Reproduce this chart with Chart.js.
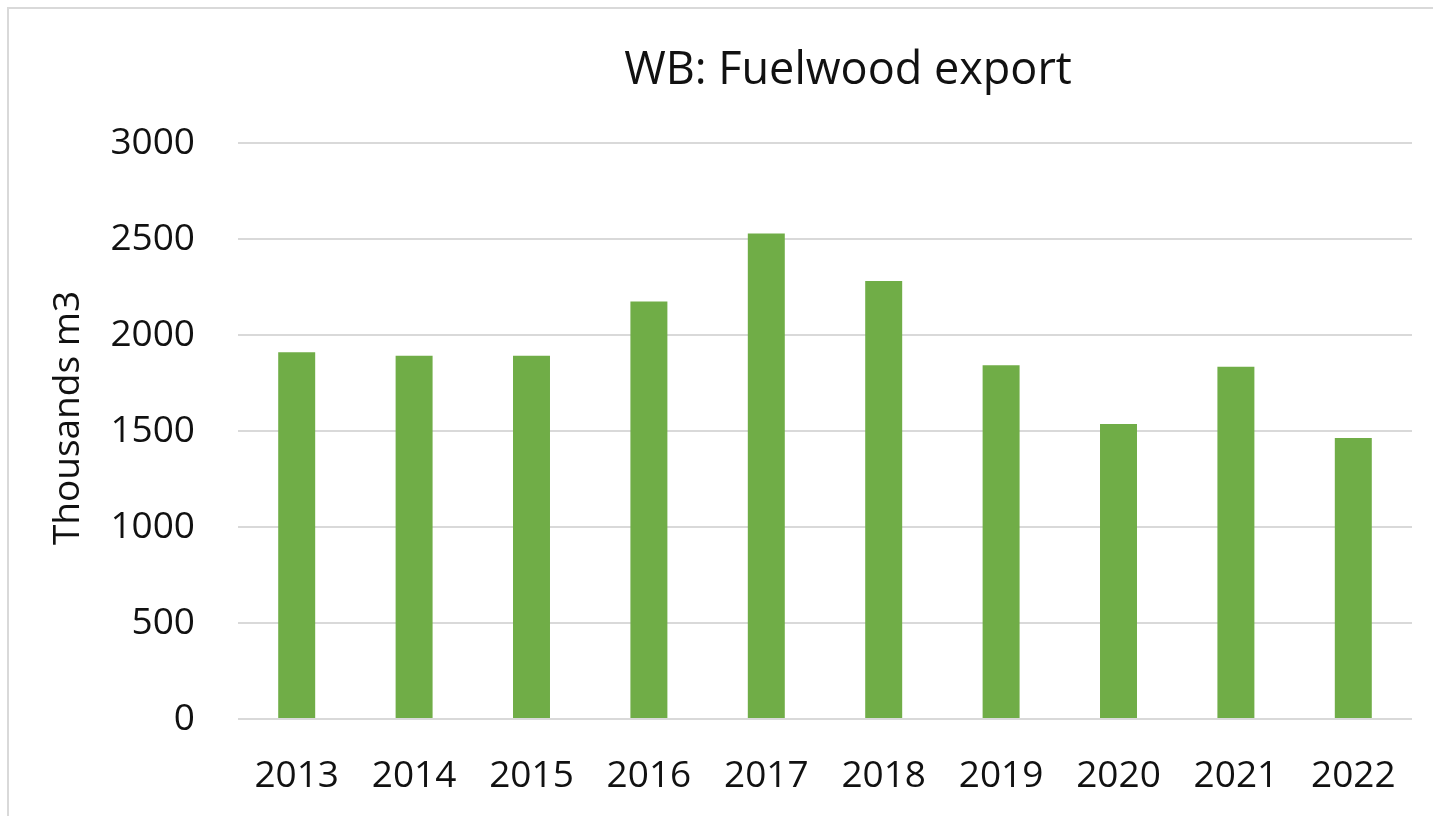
<!DOCTYPE html>
<html>
<head>
<meta charset="utf-8">
<script src="https://cdn.jsdelivr.net/npm/chart.js@4.4.1/dist/chart.umd.min.js"></script>
<style>
  html, body { margin: 0; padding: 0; background: #fff; overflow: hidden; }
  #frame { position: absolute; left: 7px; top: 7px; width: 1600px; height: 1000px; border: 2px solid #d9d9d9; }
  #wrap { position: absolute; left: 0; top: 0; width: 1433px; height: 816px; }
</style>
</head>
<body>
<div id="frame"></div>
<div id="wrap"><canvas id="chart"></canvas></div>
<script>
// data
const years = ['2013', '2014', '2015', '2016', '2017', '2018', '2019', '2020', '2021', '2022'];
const fuelwoodExport = [1910, 1892, 1892, 2175, 2529, 2281, 1843, 1537, 1834, 1463];
const yTicks = [0, 500, 1000, 1500, 2000, 2500, 3000];

const chartTitle = 'WB: Fuelwood export';
const yTitle = 'Thousands m3';
const fontFamily = "'Open Sans', 'Noto Sans', sans-serif";
const textColor = '#111111';

// titles drawn by hand so they sit where the original has them
const titlesPlugin = {
  id: 'titles',
  afterDraw(chart) {
    const ctx = chart.ctx;
    ctx.save();
    ctx.fillStyle = textColor;
    ctx.textAlign = 'center';
    ctx.textBaseline = 'middle';
    ctx.font = '45px ' + fontFamily;
    ctx.fillText(chartTitle, 848, 71);
    ctx.translate(68, 418);
    ctx.rotate(-Math.PI / 2);
    ctx.font = '37px ' + fontFamily;
    ctx.fillText(yTitle, 0, 0);
    ctx.restore();
  }
};

const ctx = document.getElementById('chart').getContext('2d');
new Chart(ctx, {
  type: 'bar',
  data: {
    labels: years,
    datasets: [{
      label: 'Fuelwood export',
      data: fuelwoodExport,
      backgroundColor: '#70ad47',
      borderWidth: 0,
      categoryPercentage: 1,
      barPercentage: 0.315
    }]
  },
  options: {
    responsive: true,
    maintainAspectRatio: false,
    animation: false,
    layout: { padding: { top: 143, right: 21, bottom: 0, left: 0 } },
    plugins: {
      legend: { display: false },
      title: { display: false },
      tooltip: { enabled: false }
    },
    scales: {
      x: {
        grid: { display: false, drawTicks: false },
        border: { display: false },
        ticks: { color: textColor, font: { family: fontFamily, size: 37 }, padding: 35, maxRotation: 0 },
        afterFit(scale) { scale.height = 97; }
      },
      y: {
        min: 0,
        max: 3000,
        afterBuildTicks(scale) { scale.ticks = yTicks.map(v => ({ value: v })); },
        grid: { color: '#d9d9d9', lineWidth: 2, drawTicks: false },
        border: { display: false },
        ticks: {
          color: textColor,
          font: { family: fontFamily, size: 37 },
          padding: 43,
          callback: v => String(v)
        },
        afterFit(scale) { scale.width = 238; }
      }
    }
  },
  plugins: [titlesPlugin]
});
</script>
</body>
</html>
